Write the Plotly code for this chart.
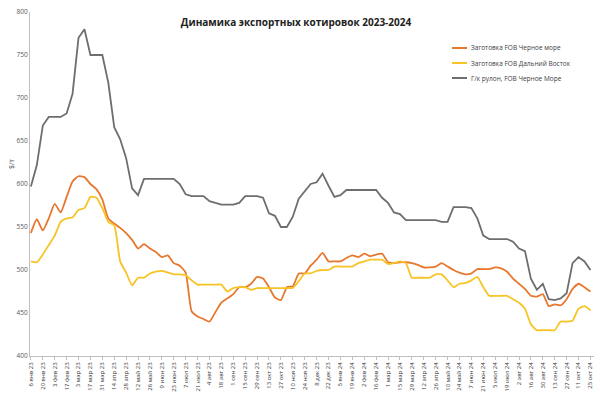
import plotly.graph_objects as go

tick_labels = ["6 янв 23", "20 янв 23", "3 фев 23", "17 фев 23", "3 мар 23", "17 мар 23",
               "31 мар 23", "14 апр 23", "28 апр 23", "12 май 23", "26 май 23", "9 июн 23",
               "23 июн 23", "7 июл 23", "21 июл 23", "4 авг 23", "18 авг 23", "1 сен 23",
               "15 сен 23", "29 сен 23", "13 окт 23", "27 окт 23", "10 ноя 23", "24 ноя 23",
               "8 дек 23", "22 дек 23", "5 янв 24", "19 янв 24", "2 фев 24", "16 фев 24",
               "1 мар 24", "15 мар 24", "29 мар 24", "12 апр 24", "26 апр 24", "10 май 24",
               "24 май 24", "7 июн 24", "21 июн 24", "5 июл 24", "19 июл 24", "2 авг 24",
               "16 авг 24", "30 авг 24", "13 сен 24", "27 сен 24", "11 окт 24", "25 окт 24"]

# weekly observations, index 0 = 6 янв 23 ... index 94 = 25 окт 24
billet_black_sea = [543, 559, 546, 560, 577, 567, 585, 603, 609, 608,
                    600, 594, 582, 560, 554, 549, 543, 535, 525, 530,
                    525, 521, 515, 517, 508, 505, 497, 452, 446, 443,
                    440, 451, 462, 467, 472, 480, 480, 484, 492, 490,
                    480, 468, 465, 480, 481, 496, 496, 505, 512, 520,
                    510, 510, 510, 514, 517, 515, 519, 516, 518, 519,
                    509, 508, 509, 509, 508, 506, 503, 503, 504, 508,
                    504, 500, 497, 495, 496, 501, 501, 501, 503, 502,
                    498, 490, 484, 478, 470, 469, 472, 458, 460, 459,
                    466, 478, 484, 480, 475]

billet_far_east = [510, 509, 518, 529, 540, 556, 560, 561, 570, 572,
                   585, 584, 572, 556, 552, 510, 497, 482, 491, 491,
                   496, 498, 499, 497, 495, 495, 494, 488, 483, 483,
                   483, 483, 483, 475, 479, 480, 480, 477, 479, 479,
                   479, 479, 479, 479, 479, 487, 496, 496, 499, 500,
                   500, 504, 504, 504, 504, 508, 510, 512, 512, 512,
                   507, 508, 510, 508, 491, 491, 491, 491, 495, 495,
                   488, 480, 484, 485, 488, 492, 480, 470, 470, 470,
                   470, 466, 462, 455, 437, 430, 430, 430, 430, 440,
                   440, 441, 455, 458, 453]

hrc_black_sea = [597, 622, 668, 678, 678, 678, 682, 705, 770, 780,
                 750, 750, 750, 718, 666, 652, 630, 595, 587, 606,
                 606, 606, 606, 606, 606, 600, 588, 586, 586, 586,
                 580, 578, 576, 576, 576, 578, 586, 586, 586, 584,
                 566, 563, 550, 550, 562, 583, 591, 600, 602, 612,
                 598, 585, 587, 593, 593, 593, 593, 593, 593, 584,
                 578, 567, 565, 558, 558, 558, 558, 558, 558, 556,
                 556, 573, 573, 573, 572, 560, 540, 536, 536, 536,
                 536, 533, 525, 522, 490, 477, 484, 466, 465, 467,
                 473, 508, 515, 510, 500]

series_names = ["Заготовка FOB Черное море", "Заготовка FOB Дальний Восток",
                "Г/к рулон, FOB Черное Море"]
colors = ["#E8772E", "#F7C325", "#6E6E6E"]

x = list(range(len(hrc_black_sea)))

L, R, T, B = 30, 594, 12, 356

fig = go.Figure()
for name, vals, col, shape in [(series_names[0], billet_black_sea, colors[0], "spline"),
                               (series_names[1], billet_far_east, colors[1], "spline"),
                               (series_names[2], hrc_black_sea, colors[2], "linear")]:
    fig.add_trace(go.Scatter(x=x, y=vals, mode="lines", name=name,
                             line=dict(color=col, width=1.8, shape=shape,
                                       smoothing=0.5 if shape == "spline" else None),
                             showlegend=False))

# custom legend
leg_y = [48, 63, 78]
for name, col, yy in zip(series_names, colors, leg_y):
    yp = 1 - (yy - T) / (B - T)
    fig.add_shape(type="line", xref="paper", yref="paper",
                  x0=(452 - L) / (R - L), x1=(467 - L) / (R - L), y0=yp, y1=yp,
                  line=dict(color=col, width=2))
    fig.add_annotation(text=name, xref="paper", yref="paper",
                       x=(469 - L) / (R - L), y=yp, xanchor="left", yanchor="middle",
                       showarrow=False, font=dict(size=6.5, color="#404040"))

# y axis title
fig.add_annotation(text="$/т", xref="paper", yref="paper",
                   x=(11 - L) / (R - L), y=1 - (164 - T) / (B - T),
                   xanchor="center", yanchor="middle", textangle=-90,
                   showarrow=False, font=dict(size=7, color="#595959"))

fig.update_layout(
    width=600, height=398,
    margin=dict(l=L, r=600 - R, t=T, b=398 - B, autoexpand=False),
    paper_bgcolor="white", plot_bgcolor="white",
    font=dict(family="Open Sans, Arial, sans-serif", color="#404040"),
    title=dict(text="<b>Динамика экспортных котировок 2023-2024</b>",
               x=296 / 600, xanchor="center", y=1 - 22 / 398, yanchor="middle",
               font=dict(size=10, color="#222222")),
    xaxis=dict(range=[-0.15, 94.6], tickmode="array",
               tickvals=list(range(0, 95, 2)), ticktext=tick_labels,
               tickangle=-90, tickfont=dict(size=6, color="#333333"),
               showgrid=False, zeroline=False, showline=True, automargin=False,
               linecolor="#BFBFBF", linewidth=1, ticks="outside",
               ticklen=3, tickcolor="#BFBFBF"),
    yaxis=dict(range=[400, 800], dtick=50, tickfont=dict(size=6.5, color="#595959"),
               showgrid=False, zeroline=False, showline=True, automargin=False,
               linecolor="#BFBFBF", linewidth=1),
)

fig.write_html("out.html", config={"displayModeBar": False, "staticPlot": True},
               post_script="document.body.style.margin='0';document.body.style.overflow='hidden';")
